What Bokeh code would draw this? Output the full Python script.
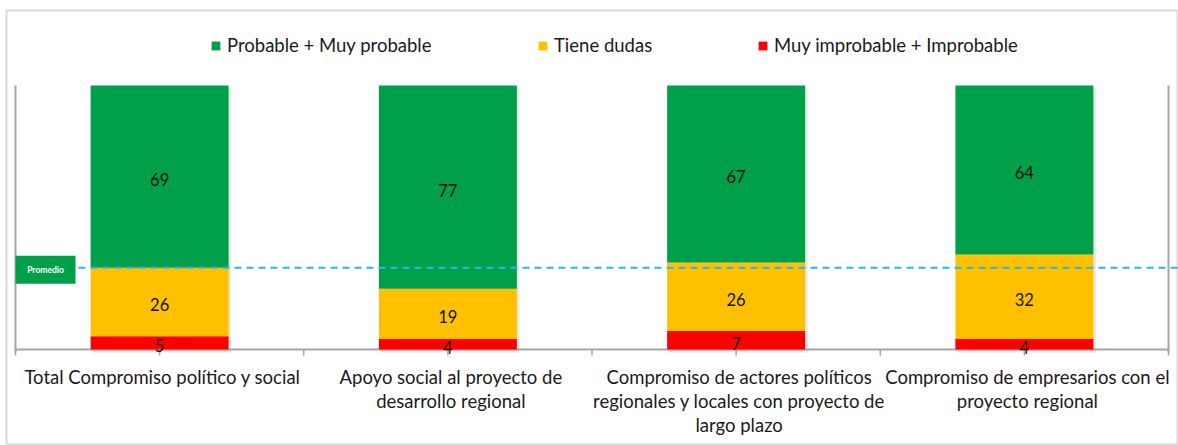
from bokeh.plotting import figure
from bokeh.models import Range1d, Legend, LegendItem, ColumnDataSource
from bokeh.embed import file_html
from bokeh.resources import INLINE
from bokeh.core.properties import value

# ---------------- data ----------------
categories = [
    "Total Compromiso político y social",
    "Apoyo social al proyecto de\ndesarrollo regional",
    "Compromiso de actores políticos\nregionales y locales con proyecto de\nlargo plazo",
    "Compromiso de empresarios con el\nproyecto regional",
]
probable = [69, 77, 67, 64]
dudas = [26, 19, 26, 32]
improbable = [5, 4, 7, 4]
promedio = 31
series_names = ["Probable + Muy probable", "Tiene dudas", "Muy improbable + Improbable"]
colors = ["#00A04A", "#FFC000", "#FF0000"]

# ---------------- layout ----------------
W, H = 1178, 445
FL, FT = 6, 10          # frame left / top (outer border of the chart)
X0, X1 = 15, 1168       # px of category axis start / end
Y100, Y0 = 85, 349      # px of value 100 / 0
n = len(categories)
xs = (X1 - X0) / n      # px per category
ys = (Y0 - Y100) / 100.0  # px per unit
FONT = "Lato"

p = figure(width=W, height=H, output_backend="svg", toolbar_location=None,
           x_range=Range1d((FL - X0) / xs, (W - X0) / xs),
           y_range=Range1d(-(H - Y0) / ys, (Y0 - FT) / ys),
           min_border_left=FL, min_border_top=FT, min_border_right=0, min_border_bottom=0,
           x_axis_location=None, y_axis_location=None)
p.grid.visible = False
p.outline_line_color = "#D9D9D9"
p.outline_line_width = 2
p.background_fill_color = "white"
p.border_fill_color = "white"

idx = [i + 0.5 for i in range(n)]
bar_w = 138 / xs
axis_col = "#A6A6A6"

# axis lines & ticks
ticks = [i * 0.5 for i in range(2 * n + 1)]
p.segment(x0=ticks, x1=ticks, y0=[0] * len(ticks), y1=[-6 / ys] * len(ticks),
          line_color=axis_col, line_width=1.5)
p.segment(x0=[0, n, 0], x1=[0, n, n], y0=[100, 100, 0], y1=[-3 / ys, -3 / ys, 0],
          line_color=axis_col, line_width=2)

# stacked bars
y_top = [a + b for a, b in zip(improbable, dudas)]
g_top = [a + b for a, b in zip(y_top, probable)]
src = ColumnDataSource(dict(x=idx, r0=[0] * n, r1=improbable, y1=y_top, g1=g_top,
                            sx=[v + 2.5 / xs for v in idx],
                            s0=[-3 / ys] * n, s1=[v - 3 / ys for v in g_top]))
# soft shadow
p.vbar(x="sx", width=bar_w, bottom="s0", top="s1", source=src,
       fill_color="#9A9A9A", fill_alpha=0.25, line_color=None)
rr = p.vbar(x="x", width=bar_w, bottom="r0", top="r1", source=src,
            fill_color=colors[2], line_color=None)
ry = p.vbar(x="x", width=bar_w, bottom="r1", top="y1", source=src,
            fill_color=colors[1], line_color=None)
rg = p.vbar(x="x", width=bar_w, bottom="y1", top="g1", source=src,
            fill_color=colors[0], line_color=None)

# value labels
lx, ly, lt = [], [], []
for i in range(n):
    lx += [idx[i]] * 3
    ly += [improbable[i] / 2, improbable[i] + dudas[i] / 2, y_top[i] + probable[i] / 2]
    lt += [str(improbable[i]), str(dudas[i]), str(probable[i])]
p.text(x=lx, y=ly, text=lt, text_align="center", text_baseline="middle",
       text_font=value(FONT), text_font_size="16.5px", text_color="#111111", y_offset=3)

# category labels
cx, cy, ct, co = [], [], [], []
for i, c in enumerate(categories):
    for j, line in enumerate(c.split("\n")):
        cx.append(idx[i]); cy.append(0); ct.append(line); co.append(27 + 24 * j)
p.text(x=cx, y=cy, text=ct, y_offset=co, x_offset=3, text_align="center",
       text_baseline="middle", text_font=value(FONT), text_font_size="18.5px",
       text_color="#1A1A1A")

# promedio
p.segment(x0=[63 / xs], x1=[(W - X0) / xs + 0.1], y0=[promedio], y1=[promedio],
          line_color="#29B6EE", line_width=2, line_dash="7 5")
p.quad(left=[0], right=[60 / xs], top=[promedio + 12 / ys], bottom=[promedio - 16 / ys],
       fill_color=colors[0], line_color=None)
p.text(x=[30 / xs], y=[promedio - 2 / ys], text=["Promedio"], text_align="center",
       text_baseline="middle", text_font=value(FONT), text_font_style="bold",
       text_font_size="8.5px", text_color="white")

# legends
for rend, name, gx in zip([rg, ry, rr], series_names, [210, 537, 757]):
    leg = Legend(items=[LegendItem(label=name, renderers=[rend])],
                 location=(gx - FL, H - 56),
                 orientation="horizontal", padding=0, margin=0, border_line_alpha=0,
                 background_fill_alpha=0, glyph_width=11, glyph_height=11,
                 label_standoff=6, label_height=20, label_text_font=FONT,
                 label_text_font_size="18.5px", label_text_color="#1A1A1A")
    p.add_layout(leg)

open("out.html", "w").write(file_html(p, INLINE))
